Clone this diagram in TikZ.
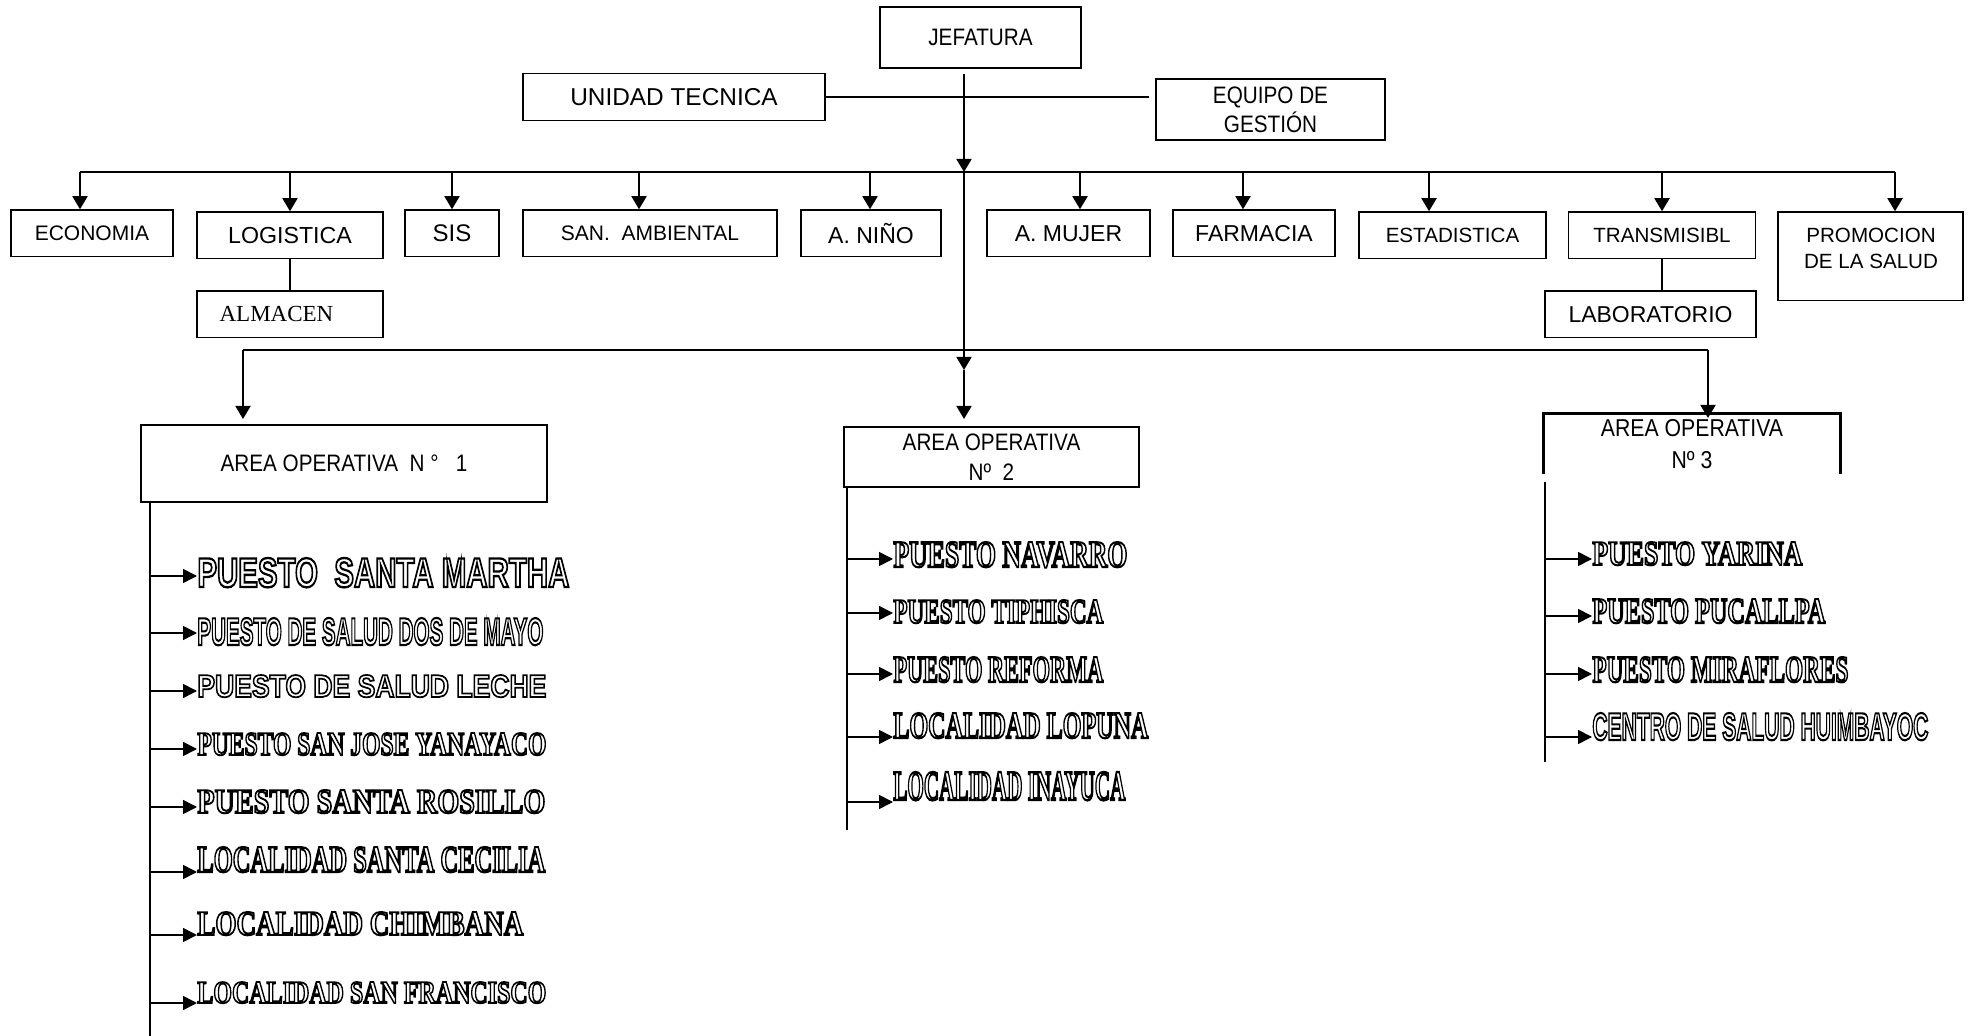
\documentclass[tikz,border=0pt]{standalone}
\usepackage{fontspec}
\usepackage{graphicx}
\setmainfont{Liberation Sans}
\newfontfamily\narrowface[FakeStretch=0.87]{Liberation Sans}
\newfontfamily\sansface{Liberation Sans}
\newfontfamily\serifface{Liberation Serif}
\usetikzlibrary{arrows.meta, positioning}

% hollow (outlined) letters for the posts
\newcommand{\hollow}[1]{\special{pdf:literal direct 1 Tr 1.0 w}#1\special{pdf:literal direct 0 Tr}}
\newcommand{\engr}[3]{\resizebox{#1}{#2}{\hollow{#3}}}

\tikzset{%
	unit/.style={draw, line width=0.75pt, inner sep=0pt, minimum height=23.3pt},
	head/.style={draw, line width=1.4pt, inner sep=0pt, align=center,%
		font=\narrowface\fontsize{11.9}{14.5}\selectfont},
	connector/.style={line width=0.9pt},
	bus/.style={line width=0.9pt},
	sel/.style={-{Triangle[length=6.5pt,width=7.5pt]}, connector},
	tick/.style={-{Triangle[length=7pt,width=7pt]}, line width=0.8pt},
	post/.style={anchor=base west, inner sep=0pt, font=\bfseries\fontsize{18}{20}\selectfont}
}

\begin{document}
\begin{tikzpicture}[x=0.5pt, y=-0.5pt, font=\fontsize{11}{13}\selectfont]
	\useasboundingbox (0,0) rectangle (1975,1036);

	\node[head, minimum width=100.5pt, minimum height=30.5pt] (jefatura) at (980.5,37.5) {JEFATURA};
	\node[unit, minimum width=151pt, font=\fontsize{12.2}{14}\selectfont] (unidad) at (674,97) {UNIDAD TECNICA};
	\node[head, minimum width=114.5pt, minimum height=30.5pt] (equipo) at (1270.5,109.5) {EQUIPO DE\\GESTIÓN};

	\node[unit, minimum width=81pt, font=\fontsize{10.5}{12}\selectfont] (economia) at (92,233.3) {ECONOMIA};
	\node[unit, minimum width=93pt, font=\fontsize{11.6}{13}\selectfont] (logistica) at (290,235.3) {LOGISTICA};
	\node[unit, minimum width=47pt, font=\fontsize{12}{14}\selectfont] (sis) at (452,233.3) {SIS};
	\node[unit, minimum width=127pt, font=\fontsize{10.5}{12}\selectfont] (sanamb) at (650,233.3) {SAN.\ \ AMBIENTAL};
	\node[unit, minimum width=70pt, font=\fontsize{11.5}{13}\selectfont] (anino) at (871,233.3) {A. NIÑO};
	\node[unit, minimum width=81.5pt, font=\fontsize{11.5}{13}\selectfont] (amujer) at (1068.5,233.3) {A. MUJER};
	\node[unit, minimum width=81pt, font=\fontsize{11.5}{13}\selectfont] (farmacia) at (1254,233.3) {FARMACIA};
	\node[unit, minimum width=93.5pt, font=\fontsize{10.3}{12}\selectfont] (estadistica) at (1452.5,235.3) {ESTADISTICA};
	\node[unit, minimum width=93.5pt, font=\fontsize{10.3}{12}\selectfont] (transmisibl) at (1662,235.3) {TRANSMISIBL};
	\node[unit, minimum width=92.5pt, minimum height=44.3pt] (promocion) at (1870.5,256.3) {};
	\node[align=center, font=\fontsize{10.3}{13}\selectfont] (promotext) at (1871,248.5) {PROMOCION\\DE LA SALUD};

	\node[unit, minimum width=93pt, below=15.5pt of logistica, font=\serifface\fontsize{11.5}{13}\selectfont] (almacen) {ALMACEN\hspace*{13.5pt}};
	\node[unit, minimum width=105.5pt, below=15.5pt of transmisibl, xshift=-5.75pt, font=\fontsize{11.5}{13}\selectfont] (laboratorio) {LABORATORIO};

	\coordinate (top)  at (964,74);
	\coordinate (hub)  at (964,172);
	\coordinate (eqin) at ([xshift=-3pt]equipo.west);
	\draw[sel]       (top) -- (hub);
	\draw[connector] (unidad.east) -- (eqin |- unidad.east);

	\foreach \n/\x in {economia/80, logistica/290, sis/452, sanamb/639, anino/870,%
		amujer/1080, farmacia/1243, estadistica/1429, transmisibl/1662, promocion/1895}
	{
		\coordinate (b-\n) at (\x,172);
		\draw[sel] (b-\n) -- (b-\n |- \n.north);
	}
	\draw[bus] (b-economia) -- (b-promocion);

	\draw[connector] (logistica.south)   -- (almacen.north);
	\draw[connector] (transmisibl.south) -- (transmisibl.south |- laboratorio.north);

	% areas operativas
	\node[head, minimum width=203pt, minimum height=38.5pt] (ao1) at (344,463.5) {AREA OPERATIVA\ \ N °\ \ \ 1};
	\node[head, minimum width=147.5pt, minimum height=30pt, font=\narrowface\fontsize{11.9}{15}\selectfont] (ao2) at (991.5,457) {AREA OPERATIVA\\Nº\ \ 2};
	\node[inner sep=0pt, align=center, minimum width=148pt, minimum height=30pt,%
		font=\narrowface\fontsize{12.2}{16}\selectfont] (ao3) at (1692,444) {AREA OPERATIVA\\Nº 3};
	\draw[line width=1.4pt] (ao3.south west) |- (ao3.north east) -- (ao3.south east);

	\coordinate (c-ao1) at (243,350);
	\coordinate (c-ao3) at (1708,350);
	\coordinate (drop)  at (964,370);
	\coordinate (t-ao1) at (243,419);
	\coordinate (t-ao2) at (964,419);
	\coordinate (t-ao3) at (1708,418);
	\draw[bus] (c-ao1) -- (c-ao3);
	\draw[sel] (hub)   -- (drop);
	\draw[sel] (drop)  -- (t-ao2);
	\draw[sel] (c-ao1) -- (t-ao1);
	\draw[sel] (c-ao3) -- (t-ao3);

	\coordinate (e-ao1) at (150,1036);
	\coordinate (e-ao2) at (847,830);
	\coordinate (s-ao3) at (1545,482);
	\coordinate (e-ao3) at (1545,762);
	\draw[line width=0.9pt] (ao1.south -| e-ao1) -- (e-ao1);
	\draw[line width=0.9pt] (ao2.south -| e-ao2) -- (e-ao2);
	\draw[line width=0.9pt] (s-ao3) -- (e-ao3);

	% puestos y localidades
	\foreach \nm/\lx/\tx/\base/\ay/\bw/\bh/\ff/\txt in {%
		a1/150/197/587/576/186/14.5/\sansface/{PUESTO\ \ SANTA MARTHA},
		a2/150/197/645/633/173/13.5/\sansface/{PUESTO DE SALUD DOS DE MAYO},
		a3/150/197/697/691/174.5/11/\sansface/{PUESTO DE SALUD LECHE},
		a4/150/197/755/749/174.5/11/\serifface/{PUESTO SAN JOSE YANAYACO},
		a5/150/197/813/807/174/11.5/\serifface/{PUESTO SANTA ROSILLO},
		a6/150/197/872/872/174/12.5/\serifface/{LOCALIDAD SANTA CECILIA},
		a7/150/197/935/935/163/11.5/\serifface/{LOCALIDAD CHIMBANA},
		a8/150/197/1003/1003/174.5/10.5/\serifface/{LOCALIDAD SAN FRANCISCO},
		b1/847/893/567/559/117/12.5/\serifface/{PUESTO NAVARRO},
		b2/847/893/623/613/105/11.5/\serifface/{PUESTO TIPHISCA},
		b3/847/893/682/674/105/12.5/\serifface/{PUESTO REFORMA},
		b4/847/893/738/737/127.5/12.5/\serifface/{LOCALIDAD LOPUNA},
		b5/847/893/800/802/116/14/\serifface/{LOCALIDAD INAYUCA},
		c1/1545/1592/565/559/105/11.5/\serifface/{PUESTO YARINA},
		c2/1545/1592/623/616/116.5/12/\serifface/{PUESTO PUCALLPA},
		c3/1545/1592/682/674/128/12.5/\serifface/{PUESTO MIRAFLORES},
		c4/1545/1592/740/737/168/13.5/\sansface/{CENTRO DE SALUD HUIMBAYOC}}
	{
		\node[post] (\nm) at (\tx,\base) {\engr{\bw pt}{\bh pt}{\ff\txt}};
		\coordinate (\nm-in) at (\lx,\ay);
		\draw[tick] (\nm-in) -- (\nm-in -| \nm.west);
	}
\end{tikzpicture}
\end{document}
